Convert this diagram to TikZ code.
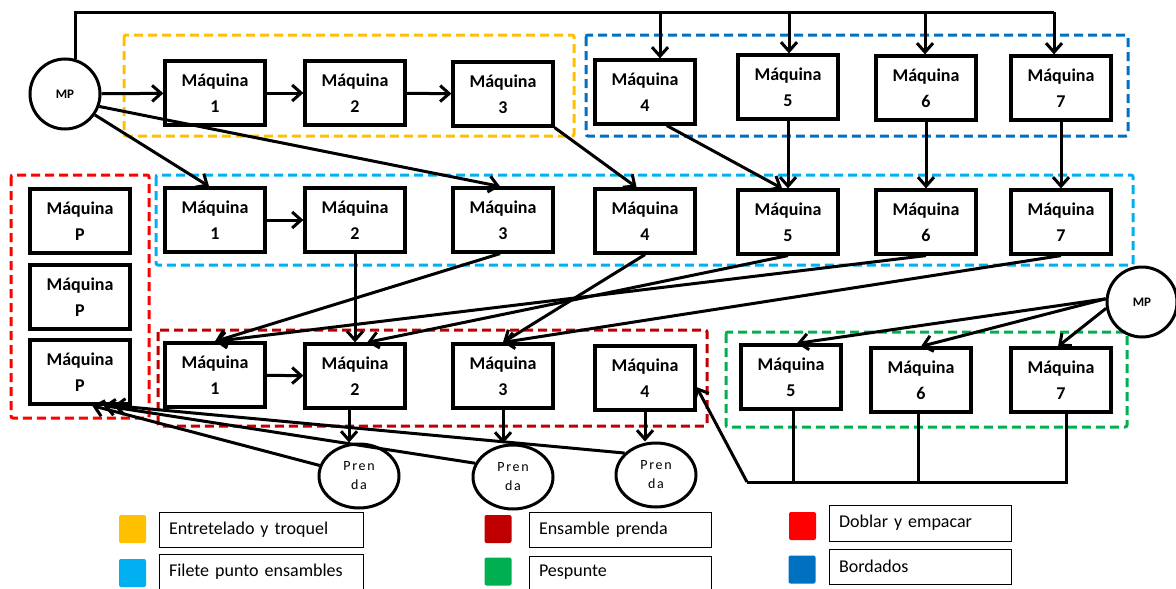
\documentclass[tikz,border=0pt]{standalone}
\usepackage{fontspec}
\setmainfont{Carlito}
\usetikzlibrary{arrows.meta,shapes.geometric}
\definecolor{amarillo}{HTML}{FFC000}
\definecolor{celeste}{HTML}{00B0F0}
\definecolor{granate}{HTML}{C00000}
\definecolor{verde}{HTML}{00B050}
\definecolor{rojo}{HTML}{FF0000}
\definecolor{azul}{HTML}{0070C0}
\tikzset{>={Straight Barb[length=9pt,width=16pt]}}
\tikzset{
	maq/.style={draw, line width=3.2pt, minimum width=100pt, minimum height=64pt, inner sep=0pt, align=center, font=\fontsize{18}{26}\selectfont\bfseries},
	mp/.style={draw, circle, line width=3pt, minimum size=70pt, inner sep=0pt, font=\fontsize{13}{15}\selectfont\bfseries},
	prenda/.style={draw, ellipse, line width=3pt, minimum width=80pt, minimum height=64pt, inner sep=0pt, align=center, font=\fontsize{14}{19}\selectfont\addfontfeature{LetterSpace=12}},
	grupo/.style={line width=3pt, dash pattern=on 9pt off 5pt, rounded corners=2pt},
	flecha/.style={->, line width=3pt},
	linea/.style={line width=3pt},
	leyenda/.style={draw, line width=1pt, inner xsep=10pt, align=left, font=\fontsize{18}{20}\selectfont},
	cuadro/.style={minimum width=27pt, minimum height=28pt, inner sep=0pt, rounded corners=2pt}
}
\begin{document}
\begin{tikzpicture}[x=1pt,y=-1pt]
%	\draw[help lines,step=50] (0,0) grid (1176,589);
	\useasboundingbox (0,0) rectangle (1176,589);
	\draw[grupo,amarillo] (124,35) rectangle (574,136);
	\draw[grupo,azul] (586,35) rectangle (1128,136);
	\draw[grupo,celeste] (156,175) rectangle (1133,265);
	\draw[grupo,rojo] (11,175) rectangle (149,418);
	\draw[grupo,granate] (158,330) rectangle (707,426);
	\draw[grupo,verde] (726,332) rectangle (1127,427);

	\node[mp] (mpA) at (65,94) {MP};
	\node[mp] (mpB) at (1142,302) {MP};
	\node[maq] (a1) at (215,93) {Máquina\\1};
	\node[maq] (a2) at (355,93) {Máquina\\2};
	\node[maq] (a3) at (503,94) {Máquina\\3};
	\node[maq] (a4) at (645,92) {Máquina\\4};
	\node[maq] (a5) at (788,87) {Máquina\\5};
	\node[maq] (a6) at (926,88) {Máquina\\6};
	\node[maq] (a7) at (1061,88) {Máquina\\7};
	\node[maq] (b1) at (215,220) {Máquina\\1};
	\node[maq] (b2) at (355,220) {Máquina\\2};
	\node[maq] (b3) at (503,220) {Máquina\\3};
	\node[maq] (b4) at (645,221) {Máquina\\4};
	\node[maq] (b5) at (788,222) {Máquina\\5};
	\node[maq] (b6) at (926,222) {Máquina\\6};
	\node[maq] (b7) at (1061,222) {Máquina\\7};
	\node[maq] (p1) at (80,221) {Máquina\\P};
	\node[maq] (p2) at (80,297) {Máquina\\P};
	\node[maq] (p3) at (80,372) {Máquina\\P};
	\node[maq] (c1) at (215,375) {Máquina\\1};
	\node[maq] (c2) at (355,376) {Máquina\\2};
	\node[maq] (c3) at (503,376) {Máquina\\3};
	\node[maq] (c4) at (645,378) {Máquina\\4};
	\node[maq] (d5) at (791,377) {Máquina\\5};
	\node[maq] (d6) at (921,380) {Máquina\\6};
	\node[maq] (d7) at (1061,380) {Máquina\\7};
	\node[prenda] (pr1) at (359,476) {Pren\\da};
	\node[prenda] (pr2) at (513,477) {Pren\\da};
	\node[prenda] (pr3) at (656,475) {Pren\\da};

	\coordinate (t4) at (660,12);
	\coordinate (t5) at (789,12);
	\coordinate (t6) at (925,12);
	\coordinate (t7) at (1054,12);
	\coordinate (bus) at (747,482);

	\draw[linea] (mpA.73) |- (t7);
	\draw[flecha] (t4) -- (t4 |- a4.north);
	\draw[flecha] (t5) -- (t5 |- a5.north);
	\draw[flecha] (t6) -- (t6 |- a6.north);
	\draw[flecha] (t7) -- (t7 |- a7.north);
	\draw[flecha] (mpA) -- (a1);
	\draw[flecha] (a1) -- (a2);
	\draw[flecha] (a2) -- (a3);
	\draw[flecha] (mpA.-35) -- (b1.100);
	\draw[flecha] (mpA.-20) -- (b3.95);
	\draw[flecha] (a3.south east) -- (b4.104);
	\draw[flecha] (a4.-57) -- (b5.100);
	\draw[flecha] (a5) -- (b5);
	\draw[flecha] (a6) -- (b6);
	\draw[flecha] (a7) -- (b7);
	\draw[flecha] (b1) -- (b2);
	\draw[flecha] (b2) -- (c2);
	\draw[flecha] (b3.-95) -- (c1.north);
	\draw[flecha] (b4.south) -- (c3.north);
	\draw[flecha] (b5.south) -- (c2.70);
	\draw[flecha] (b6.south) -- (c1.north);
	\draw[flecha] (b7.south) -- (c3.north);
	\draw[flecha] (mpB.175) -- (d5.80);
	\draw[flecha] (mpB.175) -- (d6.north);
	\draw[flecha] (mpB.190) -- (d7.95);
	\draw[flecha] (c1) -- (c2);
	\draw[flecha] (c2.-100) -- (c2.-100 |- pr1.north);
	\draw[flecha] (c3.south) -- (c3.south |- pr2.north);
	\draw[flecha] (c4.south) -- (c4.south |- pr3.north);
	\draw[flecha] (pr1.165) -- (p3.-70);
	\draw[flecha] (pr2.160) -- (p3.-55);
	\draw[flecha] (pr3.145) -- (p3.-45);
	\draw[linea] (d5.-85) -- (d5.-85 |- bus);
	\draw[linea] (d6.-95) -- (d6.-95 |- bus);
	\draw[linea] (d7.-80) |- (bus);
	\draw[flecha] (bus) -- (c4.-10);

	\node[cuadro,fill=amarillo] (cA) at (132.5,529) {};
	\node[leyenda,text width=184pt,minimum height=35pt] (lA) at (261,529.5) {Entretelado y troquel};
	\node[cuadro,fill=celeste] (cB) at (132.5,573) {};
	\node[leyenda,text width=184pt,minimum height=35pt] (lB) at (261,571.5) {Filete punto ensambles};
	\node[cuadro,fill=granate] (cC) at (498,529) {};
	\node[leyenda,text width=162pt,minimum height=35pt] (lC) at (620,529.5) {Ensamble prenda};
	\node[cuadro,fill=verde] (cD) at (498,571.5) {};
	\node[leyenda,text width=162pt,minimum height=33pt] (lD) at (620,572.5) {Pespunte};
	\node[cuadro,fill=rojo] (cE) at (802.5,526) {};
	\node[leyenda,text width=162pt,minimum height=36pt] (lE) at (920,523) {Doblar y empacar};
	\node[cuadro,fill=azul] (cF) at (802,569.5) {};
	\node[leyenda,text width=162pt,minimum height=35pt] (lF) at (920,566.5) {Bordados};
\end{tikzpicture}
\end{document}
